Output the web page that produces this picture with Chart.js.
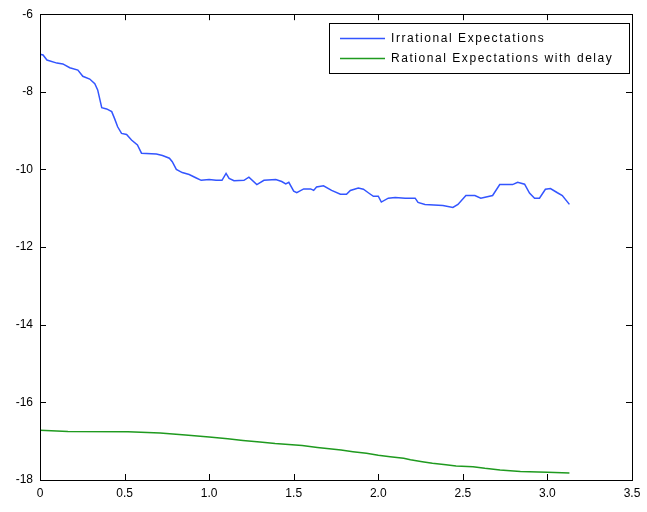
<!DOCTYPE html>
<html>
<head>
<meta charset="utf-8">
<script src="https://cdn.jsdelivr.net/npm/chart.js@4.4.1/dist/chart.umd.min.js"></script>
<style>
  html, body { margin: 0; padding: 0; background: #fff; }
  #wrap { width: 647px; height: 512px; }
</style>
</head>
<body>
<div id="wrap"><canvas id="myChart" width="647" height="512"></canvas></div>
<script>
// ---------------- data ----------------
const seriesLabels = ["Irrational Expectations", "Rational Expectations with delay"];

const irrationalX = [0, 0.018, 0.041, 0.1, 0.135, 0.176, 0.224, 0.253, 0.294, 0.324, 0.341, 0.365, 0.394, 0.424, 0.441, 0.459, 0.482, 0.512, 0.541, 0.576, 0.6, 0.688, 0.724, 0.765, 0.782, 0.806, 0.841, 0.882, 0.924, 0.953, 1.0, 1.041, 1.076, 1.1, 1.118, 1.147, 1.206, 1.235, 1.282, 1.324, 1.394, 1.429, 1.453, 1.471, 1.5, 1.518, 1.559, 1.6, 1.618, 1.635, 1.676, 1.724, 1.776, 1.812, 1.835, 1.882, 1.912, 1.941, 1.971, 2.0, 2.018, 2.059, 2.1, 2.159, 2.218, 2.235, 2.276, 2.382, 2.441, 2.471, 2.518, 2.571, 2.606, 2.676, 2.718, 2.794, 2.824, 2.865, 2.894, 2.924, 2.953, 2.988, 3.018, 3.059, 3.088, 3.13];
const irrationalY = [-7.03, -7.05, -7.18, -7.26, -7.28, -7.38, -7.44, -7.6, -7.67, -7.79, -7.95, -8.41, -8.44, -8.51, -8.69, -8.9, -9.07, -9.1, -9.24, -9.37, -9.58, -9.6, -9.64, -9.71, -9.8, -10.0, -10.08, -10.13, -10.22, -10.28, -10.26, -10.28, -10.28, -10.1, -10.23, -10.29, -10.28, -10.2, -10.39, -10.28, -10.26, -10.31, -10.37, -10.33, -10.56, -10.6, -10.5, -10.5, -10.54, -10.45, -10.42, -10.54, -10.64, -10.64, -10.54, -10.48, -10.51, -10.6, -10.69, -10.69, -10.84, -10.74, -10.72, -10.74, -10.74, -10.85, -10.9, -10.93, -10.98, -10.9, -10.67, -10.67, -10.74, -10.67, -10.39, -10.39, -10.33, -10.38, -10.61, -10.74, -10.74, -10.51, -10.49, -10.6, -10.67, -10.9];

const rationalX = [0, 0.165, 0.52, 0.71, 0.86, 1.0, 1.11, 1.2, 1.3, 1.39, 1.55, 1.64, 1.78, 1.85, 1.93, 2.0, 2.07, 2.15, 2.19, 2.26, 2.32, 2.4, 2.46, 2.56, 2.63, 2.72, 2.84, 3.0, 3.13];
const rationalY = [-16.72, -16.75, -16.76, -16.79, -16.84, -16.89, -16.94, -16.98, -17.02, -17.06, -17.11, -17.16, -17.23, -17.27, -17.31, -17.36, -17.4, -17.44, -17.48, -17.53, -17.57, -17.61, -17.64, -17.66, -17.7, -17.74, -17.78, -17.8, -17.82];

const xTicks = [0, 0.5, 1, 1.5, 2, 2.5, 3, 3.5];
const yTicks = [-18, -16, -14, -12, -10, -8, -6];

const toPoints = (xs, ys) => xs.map((x, i) => ({ x: x, y: ys[i] }));

// ---------------- box, inward ticks and legend (matlab look) ----------------
const matlabFrame = {
    id: "matlabFrame",
    afterDraw(chart) {
        const ctx = chart.ctx;
        const a = chart.chartArea;
        const xs = chart.scales.x;
        const ys = chart.scales.y;
        ctx.save();
        ctx.strokeStyle = "#000";
        ctx.lineWidth = 1;
        ctx.strokeRect(Math.round(a.left) + 0.5, Math.round(a.top) + 0.5,
            Math.round(a.right - a.left), Math.round(a.bottom - a.top));
        ctx.beginPath();
        xTicks.forEach(v => {
            const px = Math.round(xs.getPixelForValue(v)) + 0.5;
            ctx.moveTo(px, a.bottom); ctx.lineTo(px, a.bottom - 6);
            ctx.moveTo(px, a.top); ctx.lineTo(px, a.top + 6);
        });
        yTicks.forEach(v => {
            const py = Math.round(ys.getPixelForValue(v)) + 0.5;
            ctx.moveTo(a.left, py); ctx.lineTo(a.left + 6, py);
            ctx.moveTo(a.right, py); ctx.lineTo(a.right - 6, py);
        });
        ctx.stroke();

        // legend box
        const bx = 329.5, by = 23.5, bw = 300, bh = 50;
        ctx.fillStyle = "#fff";
        ctx.fillRect(bx, by, bw, bh);
        ctx.strokeRect(bx, by, bw, bh);
        ctx.font = "12px 'Liberation Sans', Arial, sans-serif";
        ctx.letterSpacing = "1.55px";
        ctx.textBaseline = "middle";
        ctx.textAlign = "left";
        chart.data.datasets.forEach((ds, i) => {
            const ly = by + 15 + i * 20;
            ctx.strokeStyle = ds.borderColor;
            ctx.lineWidth = 1.5;
            ctx.beginPath();
            ctx.moveTo(340, ly); ctx.lineTo(385, ly);
            ctx.stroke();
            ctx.fillStyle = "#000";
            ctx.fillText(ds.label, 391, ly);
        });
        ctx.restore();
    }
};

const ctx = document.getElementById("myChart");

new Chart(ctx, {
    type: "scatter",
    data: {
        datasets: [
            {
                label: seriesLabels[0],
                data: toPoints(irrationalX, irrationalY),
                showLine: true,
                borderColor: "#3355ff",
                borderWidth: 1.5,
                pointRadius: 0,
                tension: 0
            },
            {
                label: seriesLabels[1],
                data: toPoints(rationalX, rationalY),
                showLine: true,
                borderColor: "#1f9a1f",
                borderWidth: 1.5,
                pointRadius: 0,
                tension: 0
            }
        ]
    },
    options: {
        responsive: false,
        animation: false,
        layout: { padding: { top: 12, right: 15, left: 0, bottom: 0 } },
        plugins: {
            legend: { display: false },
            tooltip: { enabled: false }
        },
        scales: {
            x: {
                type: "linear",
                min: 0,
                max: 3.5,
                afterBuildTicks: s => { s.ticks = xTicks.map(v => ({ value: v })); },
                grid: { display: false, drawTicks: false },
                border: { display: false },
                ticks: {
                    color: "#000",
                    padding: 6,
                    maxRotation: 0,
                    font: { family: "'Liberation Sans', Arial, sans-serif", size: 12 }
                },
                afterFit: s => { s.height = 32; }
            },
            y: {
                type: "linear",
                min: -18,
                max: -6,
                afterBuildTicks: s => { s.ticks = yTicks.map(v => ({ value: v })); },
                grid: { display: false, drawTicks: false },
                border: { display: false },
                ticks: {
                    color: "#000",
                    padding: 7,
                    font: { family: "'Liberation Sans', Arial, sans-serif", size: 12 }
                },
                afterFit: s => { s.width = 40; }
            }
        }
    },
    plugins: [matlabFrame]
});
</script>
</body>
</html>
